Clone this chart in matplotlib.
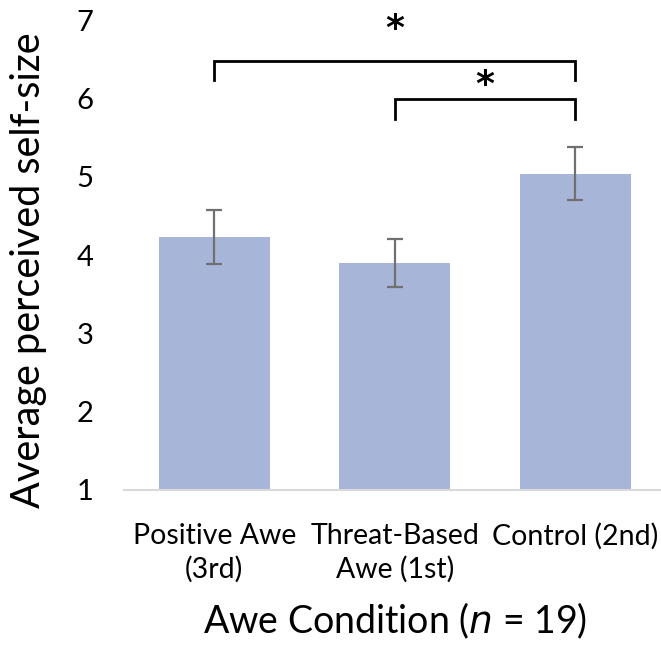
import matplotlib
matplotlib.use("Agg")
import matplotlib.pyplot as plt
import numpy as np

# Mean perceived self-size per condition, with error bars
conditions = ["Positive Awe\n(3rd)", "Threat-Based\nAwe (1st)", "Control (2nd)"]
means = [4.23, 3.90, 5.04]
errors = [0.35, 0.31, 0.34]

# significance brackets: (left bar, right bar, bracket height, leg bottom)
brackets = [(0, 2, 6.48, 6.23), (1, 2, 5.99, 5.73)]
star_heights = [6.88, 6.17]

plt.rcParams['font.family'] = ['Lato', 'DejaVu Sans']

fig = plt.figure(figsize=(6.61, 6.47), dpi=100)
ax = fig.add_axes([124 / 661, 157 / 647, 541.5 / 661, 470 / 647])

x = np.arange(len(conditions))
ax.bar(x, means, width=0.615, bottom=0, color='#a7b5d9', zorder=2)
ax.errorbar(x, means, yerr=errors, fmt='none', ecolor='#707070',
            elinewidth=1.6, capsize=6, capthick=1.6, zorder=3)

for (i, j, top, leg), sy in zip(brackets, star_heights):
    ax.plot([i, i, j, j], [leg, top, top, leg], color='black', lw=2,
            solid_joinstyle='miter', clip_on=False)
    ax.text((i + j) / 2, sy, '*', ha='center', va='center', fontsize=26,
            fontweight='bold', family='DejaVu Sans')

ax.set_xlim(-0.5, 2.5)
ax.set_ylim(1, 7)
ax.set_yticks(range(1, 8))
ax.set_xticks(x)
ax.set_xticklabels(conditions, fontsize=20.5, linespacing=1.3)
ax.tick_params(axis='y', length=0, pad=22, labelsize=21)
ax.tick_params(axis='x', length=0, pad=24)

for side in ['top', 'right', 'left']:
    ax.spines[side].set_visible(False)
ax.spines['bottom'].set_color('#d9d9d9')
ax.spines['bottom'].set_linewidth(1.5)

ax.set_xlabel("Awe Condition ($\\it{n}$ = 19)", fontsize=27, labelpad=13)
ax.set_ylabel("Average perceived self-size", fontsize=28.5)
ax.yaxis.set_label_coords(-0.142, 0.468)

fig.savefig("out.png", dpi=100)
